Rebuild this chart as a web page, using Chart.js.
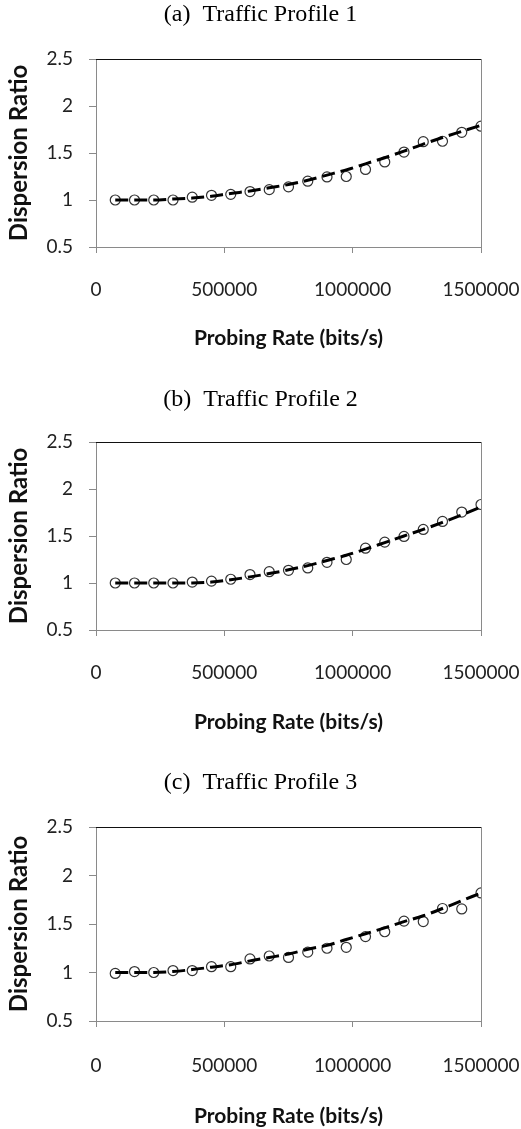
<!DOCTYPE html>
<html><head><meta charset="utf-8">
<script src="https://cdn.jsdelivr.net/npm/chart.js@4.4.0/dist/chart.umd.min.js"></script>
<style>
html,body{margin:0;padding:0;background:#fff;}
body{width:521px;height:1129px;position:relative;overflow:hidden;}
canvas{position:absolute;left:0;display:block;}
</style></head><body>
<canvas id="c1" width="521" height="384" style="top:0px"></canvas>
<canvas id="c2" width="521" height="384" style="top:384px"></canvas>
<canvas id="c3" width="521" height="361" style="top:768px"></canvas>
<script>
// ---- data ----
const panelTitles = ['(a)  Traffic Profile 1', '(b)  Traffic Profile 2', '(c)  Traffic Profile 3'];
const xAxisTitle = 'Probing Rate (bits/s)';
const yAxisTitle = 'Dispersion Ratio';
const rates = [75000, 150000, 225000, 300000, 375000, 450000, 525000, 600000, 675000, 750000,
               825000, 900000, 975000, 1050000, 1125000, 1200000, 1275000, 1350000, 1425000, 1500000];
const profile1Measured = [1.00, 1.00, 1.00, 1.00, 1.03, 1.05, 1.06, 1.09, 1.11, 1.14,
                          1.20, 1.245, 1.25, 1.325, 1.405, 1.51, 1.62, 1.625, 1.72, 1.785];
const profile1Fit = [1.00, 1.00, 1.00, 1.01, 1.02, 1.04, 1.07, 1.095, 1.13, 1.165,
                     1.21, 1.265, 1.32, 1.385, 1.45, 1.52, 1.595, 1.665, 1.73, 1.795];
const profile2Measured = [1.00, 1.00, 1.00, 1.00, 1.01, 1.02, 1.04, 1.09, 1.12, 1.135,
                          1.16, 1.22, 1.25, 1.37, 1.435, 1.495, 1.57, 1.655, 1.755, 1.835];
const profile2Fit = [1.00, 1.00, 1.00, 1.00, 1.00, 1.01, 1.035, 1.065, 1.10, 1.14,
                     1.185, 1.24, 1.295, 1.36, 1.43, 1.50, 1.57, 1.645, 1.725, 1.81];
const profile3Measured = [0.99, 1.01, 1.00, 1.02, 1.02, 1.06, 1.06, 1.14, 1.17, 1.155,
                          1.21, 1.25, 1.26, 1.37, 1.42, 1.53, 1.525, 1.66, 1.655, 1.82];
const profile3Fit = [1.00, 1.00, 1.00, 1.01, 1.03, 1.055, 1.08, 1.12, 1.155, 1.19,
                     1.24, 1.28, 1.34, 1.40, 1.46, 1.525, 1.585, 1.66, 1.74, 1.82];
const yMin = 0.5, yMax = 2.5, yStep = 0.5;
const xMin = 0, xMax = 1500000, xStep = 500000;

// ---- layout per panel (pixels) ----
const panels = [
  {id: 'c1', title: panelTitles[0], measured: profile1Measured, fit: profile1Fit,
   titleTop: 0, titleBottom: 30.2, xAxisH: 137, xTitlePad: 33, xTickPad: 25},
  {id: 'c2', title: panelTitles[1], measured: profile2Measured, fit: profile2Fit,
   titleTop: 1.6, titleBottom: 27.6, xAxisH: 138, xTitlePad: 33, xTickPad: 25},
  {id: 'c3', title: panelTitles[2], measured: profile3Measured, fit: profile3Fit,
   titleTop: 0.6, titleBottom: 29.6, xAxisH: 108, xTitlePad: 0, xTickPad: 27}
];

const tickFont = {family: 'Lato', size: 19};
const xTitleFont = {family: 'Lato', size: 21, weight: 'bold'};
const yTitleFont = {family: 'Lato', size: 24, weight: 'bold'};
const gray = '#8a8a8a';

function toPoints(vals) { return rates.map((r, i) => ({x: r, y: vals[i]})); }
function noPad(s) { s.paddingLeft = 0; s.paddingRight = 0; s.paddingTop = 0; s.paddingBottom = 0; }

panels.forEach(p => {
  new Chart(document.getElementById(p.id), {
    type: 'scatter',
    data: {
      datasets: [
        {
          label: 'fit', data: toPoints(p.fit), showLine: true,
          borderColor: '#000', borderWidth: 3, borderDash: [13, 6],
          pointRadius: 0, pointHoverRadius: 0, tension: 0.4, cubicInterpolationMode: 'monotone',
          fill: false
        },
        {
          label: 'measured', data: toPoints(p.measured), showLine: false,
          pointStyle: 'circle', pointRadius: 5, borderWidth: 1.2,
          borderColor: '#333', backgroundColor: 'rgba(0,0,0,0)'
        }
      ]
    },
    options: {
      responsive: false, animation: false, events: [],
      layout: {padding: 0},
      plugins: {
        legend: {display: false}, tooltip: {enabled: false},
        title: {
          display: true, text: p.title, color: '#000',
          font: {family: 'Liberation Serif', size: 24, weight: 'normal', lineHeight: 1.2},
          padding: {top: p.titleTop, bottom: p.titleBottom}
        }
      },
      scales: {
        x: {
          type: 'linear', position: 'bottom', min: xMin, max: xMax,
          afterFit: s => { s.height = p.xAxisH; noPad(s); },
          ticks: {stepSize: xStep, color: '#222', font: tickFont, padding: p.xTickPad, maxRotation: 0,
                  callback: v => String(v)},
          grid: {drawOnChartArea: false, drawTicks: true, tickLength: 6, color: gray, tickColor: gray},
          border: {display: true, color: gray, width: 1},
          title: {display: true, text: xAxisTitle, color: '#111', font: xTitleFont,
                  padding: {top: 0, bottom: p.xTitlePad}}
        },
        y: {
          type: 'linear', position: 'left', min: yMin, max: yMax,
          afterFit: s => { s.width = 96; noPad(s); },
          ticks: {stepSize: yStep, color: '#222', font: tickFont, padding: 16,
                  callback: v => String(v)},
          grid: {drawOnChartArea: false, drawTicks: true, tickLength: 7, color: gray, tickColor: gray},
          border: {display: true, color: gray, width: 1},
          title: {display: true, text: yAxisTitle, color: '#111', font: yTitleFont,
                  padding: {top: 5, bottom: 0}}
        },
        xTop: {
          type: 'linear', position: 'top', min: xMin, max: xMax,
          afterFit: s => { s.height = 0; noPad(s); },
          ticks: {display: false}, grid: {display: false, drawTicks: false},
          border: {display: true, color: '#111', width: 1}
        },
        yRight: {
          type: 'linear', position: 'right', min: yMin, max: yMax,
          afterFit: s => { s.width = 40; noPad(s); },
          ticks: {display: false}, grid: {display: false, drawTicks: false},
          border: {display: true, color: gray, width: 1}
        }
      }
    }
  });
});
</script>
</body></html>
